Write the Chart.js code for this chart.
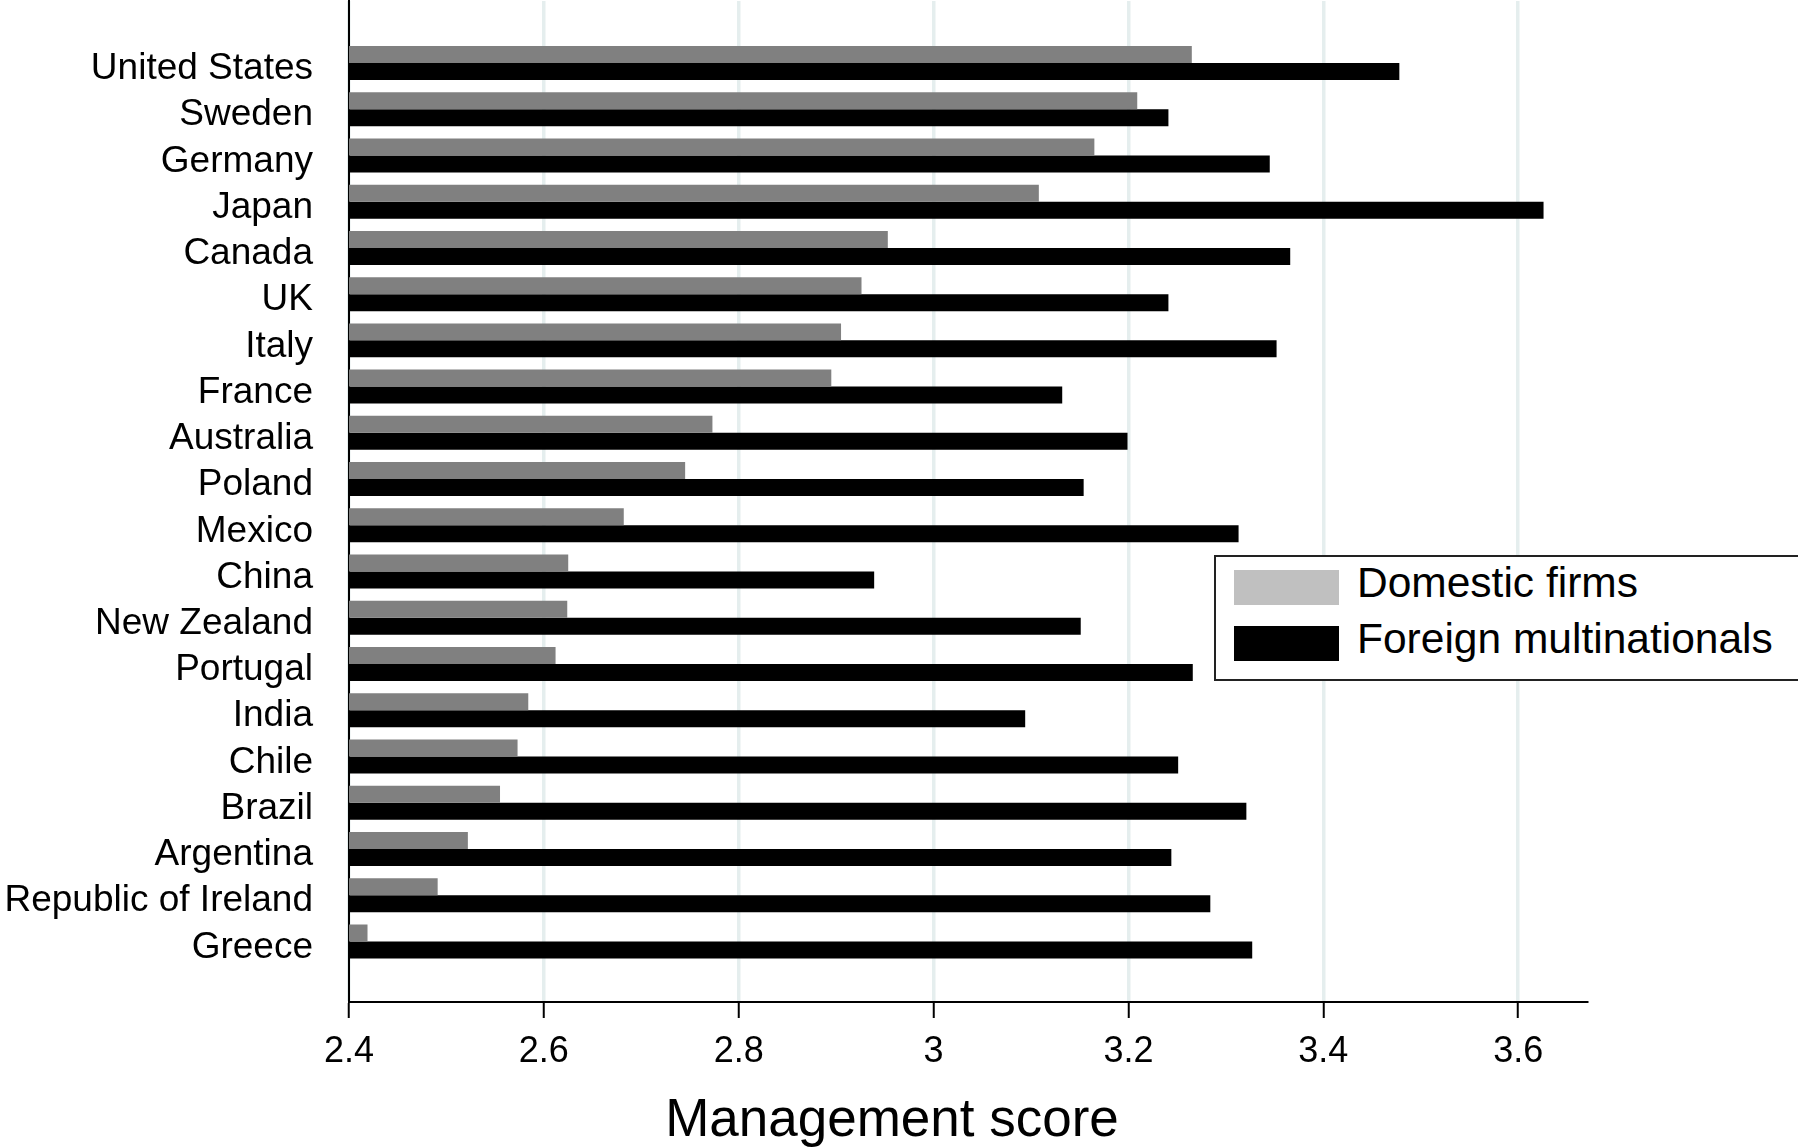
<!DOCTYPE html>
<html>
<head>
<meta charset="utf-8">
<title>Management score</title>
<script src="https://cdn.jsdelivr.net/npm/chart.js@4"></script>
<style>
  html, body { margin: 0; padding: 0; background: #fff; overflow: hidden; }
  #wrap { position: relative; width: 1798px; height: 1148px; }
  #legend {
    position: absolute; left: 1214px; top: 555px; width: 640px; height: 126px;
    box-sizing: border-box; border: 2px solid #222; background: #fff;
    font-family: "Liberation Sans", Arial, sans-serif; font-size: 42.5px; color: #000;
  }
  #legend .item { position: absolute; left: 18px; height: 35px; display: flex; align-items: center; }
  #legend .box { width: 105px; height: 35px; margin-right: 18px; }
  #legend .lbl { position: relative; top: -5px; }
</style>
</head>
<body>
<div id="wrap">
  <canvas id="chartMgmt"></canvas>
  <div id="legend"></div>
</div>
<script>
const countries = [
  "United States", "Sweden", "Germany", "Japan", "Canada", "UK", "Italy", "France",
  "Australia", "Poland", "Mexico", "China", "New Zealand", "Portugal", "India",
  "Chile", "Brazil", "Argentina", "Republic of Ireland", "Greece",
];
const domesticScores = [
  3.265, 3.209, 3.165, 3.108, 2.953, 2.926, 2.905, 2.895, 2.773, 2.745,
  2.682, 2.625, 2.624, 2.612, 2.584, 2.573, 2.555, 2.522, 2.491, 2.419,
];
const foreignScores = [
  3.478, 3.241, 3.345, 3.626, 3.366, 3.241, 3.352, 3.132, 3.199, 3.154,
  3.313, 2.939, 3.151, 3.266, 3.094, 3.251, 3.321, 3.244, 3.284, 3.327,
];
const xTicks = [2.4, 2.6, 2.8, 3, 3.2, 3.4, 3.6];

const font = "'Liberation Sans', Arial, sans-serif";

function toPoints(values) {
  // one point per country, index on the y axis
  return values.map((v, i) => ({ x: v, y: i }));
}

// html legend built from the datasets
const htmlLegend = {
  id: "htmlLegend",
  afterUpdate(chart) {
    const box = document.getElementById("legend");
    box.innerHTML = "";
    chart.data.datasets.forEach((ds, i) => {
      const item = document.createElement("div");
      item.className = "item";
      item.style.top = 13 + i * 56 + "px";
      const sw = document.createElement("span");
      sw.className = "box";
      sw.style.background = ds.legendColor;
      const txt = document.createElement("span");
      txt.className = "lbl";
      txt.textContent = ds.label;
      item.appendChild(sw);
      item.appendChild(txt);
      box.appendChild(item);
    });
  },
};

const ctx = document.getElementById("chartMgmt").getContext("2d");
new Chart(ctx, {
  type: "bar",
  data: {
    datasets: [
      { label: "Domestic firms", data: toPoints(domesticScores), backgroundColor: "#808080", legendColor: "#c0c0c0" },
      { label: "Foreign multinationals", data: toPoints(foreignScores), backgroundColor: "#000000", legendColor: "#000000" },
    ],
  },
  options: {
    indexAxis: "y",
    responsive: true,
    maintainAspectRatio: false,
    animation: false,
    devicePixelRatio: 1,
    categoryPercentage: 0.735,
    barPercentage: 1.0,
    layout: { padding: { top: 1, right: 14, left: 0, bottom: 0 } },
    plugins: {
      legend: { display: false },
      tooltip: { enabled: false },
      title: {
        display: true,
        position: "bottom",
        text: "Management score",
        color: "#000",
        font: { family: font, size: 53, weight: "normal", lineHeight: 1 },
        padding: { top: 0, bottom: 0 },
      },
    },
    scales: {
      x: {
        type: "linear",
        min: 2.4,
        max: 3.6706,
        afterBuildTicks: (scale) => {
          scale.ticks = xTicks.map((v) => ({ value: v }));
        },
        afterFit: (scale) => {
          scale.height = 93;
        },
        grid: {
          color: "#e5eeee",
          lineWidth: 3.5,
          tickColor: "#000",
          tickWidth: 2,
          tickLength: 16,
        },
        border: { display: true, color: "#000", width: 2 },
        ticks: {
          color: "#000",
          padding: 12,
          font: { family: font, size: 36 },
          callback: (v) => String(+v.toFixed(1)),
        },
      },
      y: {
        type: "linear",
        reverse: true,
        offset: false,
        min: -1.34,
        max: 20.31,
        afterBuildTicks: (scale) => {
          scale.ticks = countries.map((c, i) => ({ value: i }));
        },
        afterFit: (scale) => {
          scale.width = 349;
          scale.paddingTop = 0;
          scale.paddingBottom = 0;
        },
        grid: { display: false, drawTicks: true, tickLength: 36 },
        border: { display: true, color: "#000", width: 2 },
        ticks: {
          color: "#000",
          padding: 0,
          labelOffset: 6,
          font: { family: font, size: 37 },
          callback: (v) => countries[v],
        },
      },
      // empty space on the right of the plot
      yRight: {
        type: "linear",
        position: "right",
        grid: { display: false },
        border: { display: false },
        ticks: { display: false },
        afterFit: (scale) => {
          scale.width = 197;
          scale.paddingTop = 0;
          scale.paddingBottom = 0;
        },
      },
    },
  },
  plugins: [htmlLegend],
});
</script>
</body>
</html>
